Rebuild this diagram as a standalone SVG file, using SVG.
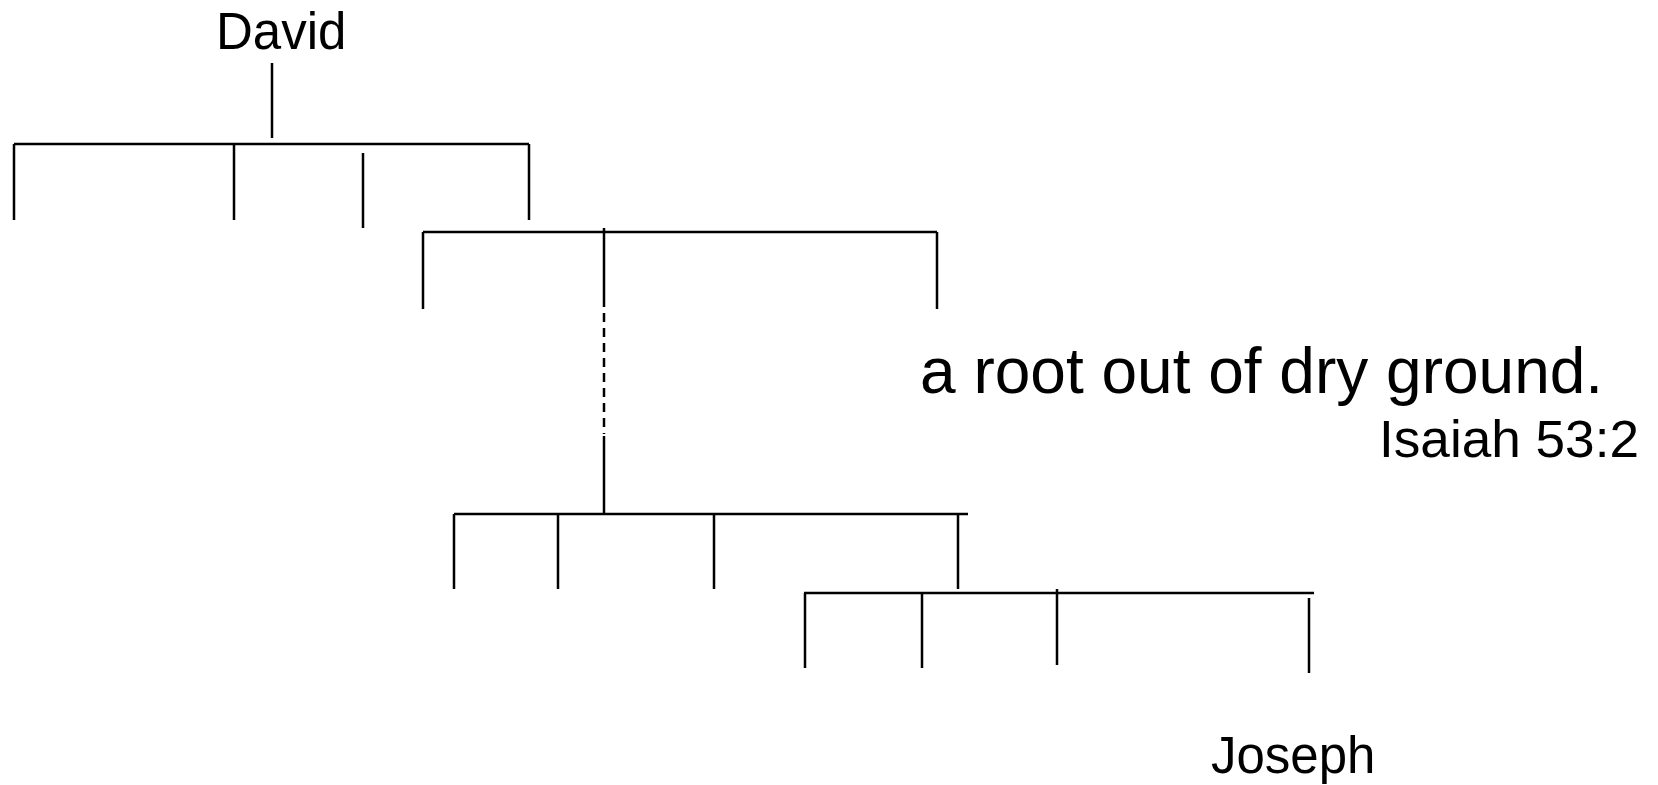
<svg xmlns="http://www.w3.org/2000/svg" width="1658" height="785" viewBox="0 0 1658 785">
<style>
.ln{stroke:#000;stroke-width:2.5;fill:none}
.dash{stroke:#000;stroke-width:2.5;fill:none;stroke-dasharray:9,6}
.t{font-family:"Liberation Sans",Arial,sans-serif;fill:#000}
</style>
<rect width="1658" height="785" fill="#fff"/>
<g id="david"><text class="t" x="216" y="48.5" font-size="51">David</text></g>
<g id="quote"><text class="t" x="920" y="393" font-size="64">a root out of dry ground.</text></g>
<g id="ref"><text class="t" x="1379" y="457" font-size="51" textLength="260" lengthAdjust="spacingAndGlyphs">Isaiah 53:2</text></g>
<g id="joseph"><text class="t" x="1211" y="773" font-size="51">Joseph</text></g>
<g id="connectors">
<path class="ln" d="M272 63V138"/>
<path class="ln" d="M14 144H529M14 144V220M234 144V220M363 153V228M529 144V220"/>
<path class="ln" d="M423 232H937M423 232V309M604 228V307M937 232V309"/>
<path class="dash" d="M604 313V434"/>
<path class="ln" d="M604 436V514"/>
<path class="ln" d="M454 514H968M454 514V589M558 514V589M714 514V589M958 514V589"/>
<path class="ln" d="M804 593H1314M805 593V668M922 593V668M1057 589V665M1309 598V673"/>
</g>
</svg>
